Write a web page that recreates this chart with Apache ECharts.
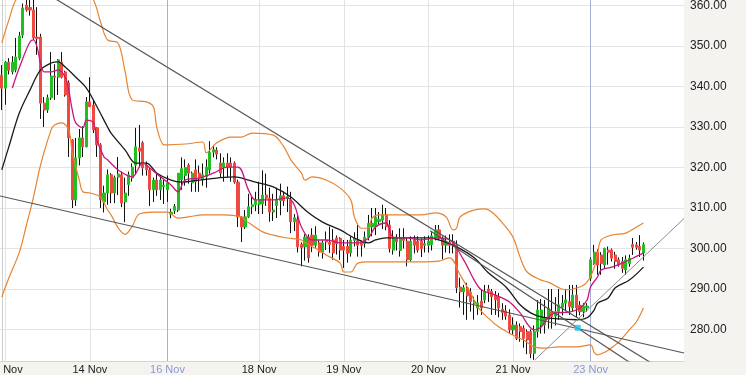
<!DOCTYPE html>
<html><head><meta charset="utf-8">
<style>html,body{margin:0;padding:0;background:#f4f3f0;}#c{width:746px;height:375px;}</style>
<script src="https://cdn.jsdelivr.net/npm/echarts@6/dist/echarts.min.js"></script>
</head><body><div id="c"></div>
<script>
// hourly slots on the category axis
const slotCount = 194;
const tickIndex = [1, 25, 47, 73, 97, 121, 145, 167];
const tickText = ['13 Nov', '14 Nov', '16 Nov', '18 Nov', '19 Nov', '20 Nov', '21 Nov', '23 Nov'];
const weekStart = ['16 Nov', '23 Nov'];

// candles: [open, close, low, high]
const ohlc = [
[342.8,339.6,334.2,345.3],[339.6,346.0,335.5,346.3],[346.0,344.0,343.0,347.0],[343.6,346.0,343.0,347.5],
[344.1,347.3,343.5,352.0],[347.0,352.5,346.5,353.5],[352.7,359.4,352.0,360.5],[360.1,358.9,358.5,362.0],
[359.5,358.9,357.5,362.0],[358.9,352.0,351.5,362.0],[352.2,351.8,347.8,359.6],[352.2,335.9,332.0,353.0],
[335.9,334.2,330.0,337.4],[334.2,337.2,333.5,338.0],[337.2,342.6,336.7,348.5],[342.6,342.3,336.7,345.5],
[342.3,346.6,337.9,346.8],[346.0,342.3,342.0,348.5],[343.6,337.9,337.5,343.9],[340.9,327.3,322.6,341.5],
[326.8,312.0,310.0,327.0],[312.0,322.4,310.5,327.3],[322.4,327.3,320.5,329.5],[327.3,325.1,322.6,330.2],
[325.1,336.2,325.0,337.4],[336.2,335.0,335.0,342.3],[335.4,329.3,328.5,336.5],[329.8,325.6,322.6,330.0],
[325.6,312.0,310.0,326.0],[311.5,313.7,308.9,315.5],[313.7,318.2,310.8,319.5],[318.2,313.7,311.2,318.6],
[313.7,317.5,311.2,318.0],[317.6,318.4,313.2,322.6],[318.2,311.2,310.2,319.0],[311.5,313.7,306.5,317.5],
[315.8,318.2,313.0,319.0],[317.4,320.1,316.5,321.0],[320.6,325.1,318.2,329.8],[324.8,324.0,320.0,330.5],
[326.1,319.9,318.0,326.5],[320.6,319.4,318.0,321.5],[319.4,314.5,310.5,320.0],[314.5,316.9,311.5,317.5],
[316.9,314.5,313.0,318.5],[314.5,316.9,312.0,317.8],[315.3,315.6,311.0,316.9],[314.5,316.2,311.5,318.0],
[308.5,309.0,307.5,309.8],[309.4,310.4,308.5,311.0],[309.5,318.6,309.0,318.6],[317.0,319.7,314.5,322.5],
[318.0,320.0,315.5,322.0],[320.6,318.6,316.0,321.0],[316.2,318.6,314.0,319.0],[319.4,316.5,314.0,322.0],
[318.6,317.4,314.0,320.5],[317.0,318.2,315.5,321.0],[317.7,320.1,315.0,322.0],[319.4,323.8,318.5,326.5],
[323.8,324.4,322.5,325.5],[324.3,323.3,322.0,325.0],[321.1,318.6,317.5,323.5],[320.1,321.1,316.5,322.5],
[321.1,320.1,317.5,323.5],[321.1,320.1,316.5,322.5],[321.1,316.4,316.0,321.5],[316.4,307.8,305.3,317.0],
[307.8,305.3,301.6,308.0],[305.3,307.8,304.8,309.5],[307.8,310.3,307.5,313.5],[310.3,310.8,308.5,313.0],
[310.8,312.0,309.2,314.0],[310.9,312.1,308.5,316.5],[311.0,313.2,308.5,319.3],[313.2,312.4,310.5,318.5],
[312.4,309.0,306.6,315.0],[309.0,309.5,306.8,313.5],[310.6,312.0,307.5,315.0],[311.8,313.0,308.2,316.0],
[313.0,311.8,310.5,314.0],[312.3,312.8,309.0,315.3],[312.0,306.6,303.8,314.0],[306.6,307.6,304.3,308.5],
[307.2,300.4,299.0,308.5],[301.0,300.2,295.6,301.5],[300.4,302.8,297.0,303.5],[302.8,297.7,296.5,303.5],
[303.3,300.8,299.1,305.0],[300.8,303.3,300.2,305.5],[301.4,299.1,298.0,302.0],[299.1,301.4,297.5,302.0],
[302.0,301.6,299.6,304.2],[301.5,301.0,298.9,305.4],[302.1,298.9,297.2,304.8],[302.6,301.2,298.5,303.2],
[302.5,299.6,297.2,302.8],[300.5,299.6,295.2,302.1],[300.5,298.8,296.5,302.1],[298.9,302.1,298.0,303.0],
[302.0,302.6,300.5,304.0],[301.9,300.8,298.0,305.8],[301.5,300.8,298.0,301.9],[301.2,302.8,300.2,304.2],
[302.8,306.2,302.0,308.3],[305.3,306.2,303.0,310.0],[305.4,307.8,303.3,310.0],[306.6,307.2,306.0,309.0],
[307.0,308.3,304.8,310.8],[308.3,305.4,304.5,310.0],[305.8,300.0,299.0,307.0],[299.6,302.5,298.5,304.5],
[302.5,301.7,299.5,303.5],[299.5,302.5,298.0,305.0],[302.5,302.0,300.0,305.0],[301.8,297.2,295.6,302.5],
[297.2,301.8,296.8,303.0],[302.1,300.8,298.8,303.2],[301.8,299.6,299.0,303.0],[301.8,300.0,297.9,302.5],
[300.8,301.2,299.0,303.0],[300.8,301.8,299.0,303.2],[301.0,303.1,299.5,304.0],[302.6,304.6,302.0,305.8],
[304.6,302.6,302.0,305.8],[302.6,300.8,297.3,303.0],[300.8,301.4,299.0,303.2],[301.5,300.8,298.8,303.5],
[301.8,300.8,298.8,303.5],[300.9,290.3,289.0,302.0],[290.5,289.3,285.4,292.8],[289.3,290.3,283.6,291.0],
[290.3,288.3,282.4,291.5],[289.2,286.9,284.4,290.2],[286.5,287.0,282.4,288.1],[285.3,286.6,283.6,288.5],
[287.0,285.3,283.6,289.8],[287.3,289.4,286.5,291.0],[290.0,289.4,286.8,291.0],[289.4,288.1,283.6,290.0],
[288.5,287.3,283.6,289.5],[288.1,285.3,283.0,289.0],[285.0,284.2,282.4,286.5],[284.6,283.3,282.4,286.0],
[283.6,279.9,279.0,285.0],[279.9,281.1,278.7,283.0],[281.1,277.8,277.4,282.0],[280.7,279.5,277.0,281.5],
[280.3,277.8,275.5,281.0],[279.5,277.4,273.9,280.0],[279.5,274.1,272.9,280.0],[274.1,279.5,272.5,281.0],
[279.5,284.8,278.0,287.3],[281.1,284.8,279.0,287.5],[281.1,282.8,279.0,287.3],[282.4,285.2,280.2,290.0],
[284.4,283.2,280.2,290.0],[283.3,284.4,281.0,288.0],[284.4,286.1,282.4,290.0],[285.5,286.5,283.5,288.5],
[286.5,287.3,284.5,290.0],[286.9,285.7,283.6,291.0],[285.3,288.5,284.4,291.0],[288.5,285.3,283.0,291.0],
[286.0,284.4,283.5,287.0],[284.4,285.8,283.0,286.5],[285.3,285.8,284.4,286.5],[292.6,297.2,292.0,297.8],
[296.3,299.1,296.0,300.9],[299.1,295.9,293.5,299.8],[298.4,296.3,293.5,299.1],[295.9,300.0,295.0,300.2],
[299.6,299.1,296.0,300.5],[299.6,297.6,296.8,300.0],[298.4,296.8,295.0,299.2],[297.2,295.9,295.5,297.8],
[296.8,295.1,294.0,297.9],[294.7,297.2,293.5,298.3],[296.3,297.6,295.5,298.5],[301.0,300.3,298.4,302.6],
[300.9,300.3,299.7,301.6],[300.5,299.6,297.9,303.3],[298.9,300.95,297.0,301.5]
];

// indicators: [slot, price]
const bbUpper = [[0,350.8],[2,356.4],[4,361.4],[8,366],[13,368],[18,368],[22,366],[26,361.4],[28,356],[30,351.5],[33,350.7],[35,343.6],[37,336.7],[41,336.2],[43,335],[44,329.8],[46,325.6],[47,325.6],[52,325.8],[57,326.3],[58,323.6],[61,326.1],[65,327.5],[68,327.5],[71,328.5],[77,328],[80,325.1],[82,321.9],[85,318.6],[86,316.9],[88,317.7],[92,316.9],[96,314.9],[99,312],[100,307.8],[102,305],[104,305],[105,307.5],[107,308.3],[113,308.3],[119,308.3],[123,308.8],[126,307.8],[128,304.6],[129,305],[130,307.8],[134,309.5],[137,309.8],[139,309],[142,306.3],[145,302.8],[147,297.9],[149,294.2],[153,292.2],[155,291.7],[160,289.8],[164,290.5],[166,291.7],[168,295.2],[169,298.9],[170,302.1],[173,303.3],[177,303.8],[180,305.3],[182,306.3]];
const bbLower = [[0,288],[2,292.7],[5,299.1],[7,305.8],[9,312.7],[11,320.6],[14,329.3],[15,330.5],[17,331],[19,329.3],[20,323.6],[22,316.9],[23,314],[25,313.7],[28,312.7],[30,309.5],[31,308.3],[33,305.1],[35,303.5],[37,305.5],[39,308.5],[43,309],[47,309],[50,307.5],[53,307.8],[57,308.3],[60,308.3],[63,308.3],[68,307.8],[69,307],[71,305.8],[74,304.1],[77,303.3],[81,302.6],[85,302.1],[87,300.9],[90,299.6],[92,298.4],[96,296.4],[97,294.2],[99,294.2],[101,296.4],[104,296.7],[108,296.7],[119,296.7],[124,296.9],[127,297.7],[130,293.5],[133,289],[135,285.6],[138,282.8],[141,280.6],[145,278.6],[148,277.4],[151,275.7],[154,275.4],[158,275.7],[163,275.7],[167,276.2],[168,274.4],[169,273.7],[170,274],[172,274.9],[174,276.2],[175,276.9],[178,279.9],[180,281.9],[182,285.3]];
const maSlow = [[0,319.4],[2,325.1],[5,333.5],[8,339.1],[11,344.1],[14,345.8],[16,346.1],[18,344.8],[21,342.3],[24,339.6],[27,335],[30,330],[31,328.5],[35,324.3],[38,321.1],[41,321.1],[44,318.6],[48,316.9],[51,316.4],[56,316.9],[61,317.4],[66,317.7],[70,316.9],[72,316.4],[77,315.2],[82,312.7],[87,308.8],[91,306.5],[96,304.6],[100,302.6],[104,301.4],[106,302.1],[109,302.6],[115,302.6],[121,302.6],[124,302.1],[129,300.4],[134,297.7],[138,294],[143,290.5],[147,286.1],[150,284.1],[153,283.1],[158,282.6],[163,282.4],[166,282.9],[168,284.8],[169,286.5],[172,287.8],[174,290.3],[178,292.2],[182,295.4]];
const maFast = [[3,339.6],[4,342.3],[6,347],[8,351],[9,351.5],[10,349.8],[11,345.8],[12,343.6],[14,343.6],[16,344.1],[18,342.3],[19,339.1],[20,334.2],[21,331],[23,329.8],[24,331.7],[26,331],[27,326.8],[29,322.6],[30,321.9],[33,319.4],[37,317.7],[40,321.1],[42,319.9],[45,317.7],[48,315.7],[50,314],[52,316.9],[56,317.4],[60,318.6],[64,320.1],[67,320.1],[70,314.4],[72,312],[77,312],[81,312.5],[83,310.7],[85,305.3],[88,302.1],[92,302.1],[96,301.4],[101,301.4],[104,302.6],[106,305.3],[109,306.3],[111,302.8],[115,302.6],[119,302.1],[123,302.6],[127,302.1],[131,297.2],[134,292.2],[136,289.8],[140,288.5],[144,286.8],[147,284.1],[151,279.9],[153,280.6],[155,283.1],[157,284.1],[161,284.3],[164,285.3],[166,287.3],[167,290.5],[169,293],[170,294.7],[173,295.4],[176,296.4],[179,297.6],[182,298.9]];

// drawn trend lines: [slot, price]
const trendA = [[14, 362.3], [186, 270.8]];
const trendB = [[-0.5, 312.97], [193.5, 274.2]];
const trendC = [[121.5, 304.4], [181, 270.2]];
const trendD = [[151.2, 272.5], [193.5, 307.4]];
const cyanMark = [[163.4, 280.4]];

const FONT = 'Arial, "Liberation Sans", sans-serif';
const slots = Array.from({length: slotCount}, (_, i) => {
  const k = tickIndex.indexOf(i);
  return k >= 0 ? tickText[k] : 's' + i;
});
const bodies = ohlc.map(r => [r[0], r[1], Math.min(r[0], r[1]), Math.max(r[0], r[1])]);
const lastClose = ohlc[ohlc.length - 1][1];

function lineSeries(data, color, width, smooth) {
  return {type: 'line', xAxisIndex: 1, data: data, showSymbol: false, symbol: 'none', smooth: smooth,
    lineStyle: {color: color, width: width}, z: 4, silent: true, clip: true};
}

const chart = echarts.init(document.getElementById('c'));
chart.setOption({
  animation: false,
  backgroundColor: '#f4f3f0',
  grid: {left: 0, right: 62, top: 0, bottom: 14, show: true, backgroundColor: '#ffffff', borderWidth: 0,
    containLabel: false, outerBoundsMode: 'none'},
  xAxis: [{
    type: 'category', data: slots, boundaryGap: true,
    axisLine: {show: true, lineStyle: {color: '#d4d4d4'}},
    axisTick: {show: false}, splitLine: {show: false},
    axisLabel: {
      interval: (idx) => tickIndex.includes(idx),
      color: (v) => weekStart.includes(v) ? '#8d97cf' : '#222',
      fontSize: 11, fontFamily: FONT, margin: 3
    }
  }, {
    type: 'value', min: -0.5, max: slotCount - 0.5, show: false, position: 'top'
  }],
  yAxis: {
    type: 'value', position: 'right', min: 272.22, max: 361.36, scale: true,
    splitNumber: 9, minInterval: 10, maxInterval: 10,
    axisLine: {show: true, lineStyle: {color: '#cfcfcf'}},
    axisTick: {show: false},
    splitLine: {lineStyle: {color: '#e4e4e4'}, showMinLine: false, showMaxLine: false},
    axisLabel: {
      formatter: (v) => Math.abs(v / 10 - Math.round(v / 10)) < 1e-6 ? v.toFixed(2) : '',
      color: '#222', fontSize: 12, fontFamily: FONT, margin: 6
    }
  },
  series: [
    {type: 'line', xAxisIndex: 1, data: [], silent: true,
      markLine: {silent: true, symbol: 'none', z: 1, animation: false, label: {show: false},
        data: tickIndex.map((i, k) => ({xAxis: i,
          lineStyle: {type: 'solid', width: 1, color: weekStart.includes(tickText[k]) ? '#a7aed9' : '#e2e2e2'}}))}},
    {type: 'candlestick', data: ohlc, barWidth: 1, z: 2, silent: true,
      itemStyle: {color: '#111', color0: '#111', borderColor: '#111', borderColor0: '#111', borderWidth: 1}},
    {type: 'candlestick', data: bodies, barWidth: 2.6, z: 3, silent: true,
      itemStyle: {color: '#22bf22', color0: '#ee4a3f', borderColor: '#22bf22', borderColor0: '#ee4a3f', borderWidth: 1},
      markLine: {silent: true, symbol: 'none', animation: false, lineStyle: {opacity: 0},
        data: [{yAxis: lastClose}],
        label: {show: true, position: 'end', distance: 0, formatter: lastClose.toFixed(2),
          color: '#111', fontSize: 14, fontFamily: FONT, backgroundColor: '#fff',
          borderColor: '#111', borderWidth: 1, padding: [2, 30, 1, 4]}}},
    lineSeries(bbUpper, '#e8832f', 1.2, 0.35),
    lineSeries(bbLower, '#e8832f', 1.2, 0.35),
    lineSeries(maSlow, '#1a1a1a', 1.3, 0.35),
    lineSeries(maFast, '#c8177f', 1.3, 0.35),
    lineSeries(trendA, '#555555', 1.2, false),
    lineSeries(trendB, '#555555', 1.2, false),
    lineSeries(trendC, '#555555', 1.2, false),
    lineSeries(trendD, '#8c8c8c', 1, false),
    {type: 'scatter', xAxisIndex: 1, data: cyanMark, symbol: 'rect', symbolSize: 6, silent: true,
      itemStyle: {color: '#1ec6ef'}, z: 5}
  ]
});
</script>
</body></html>
